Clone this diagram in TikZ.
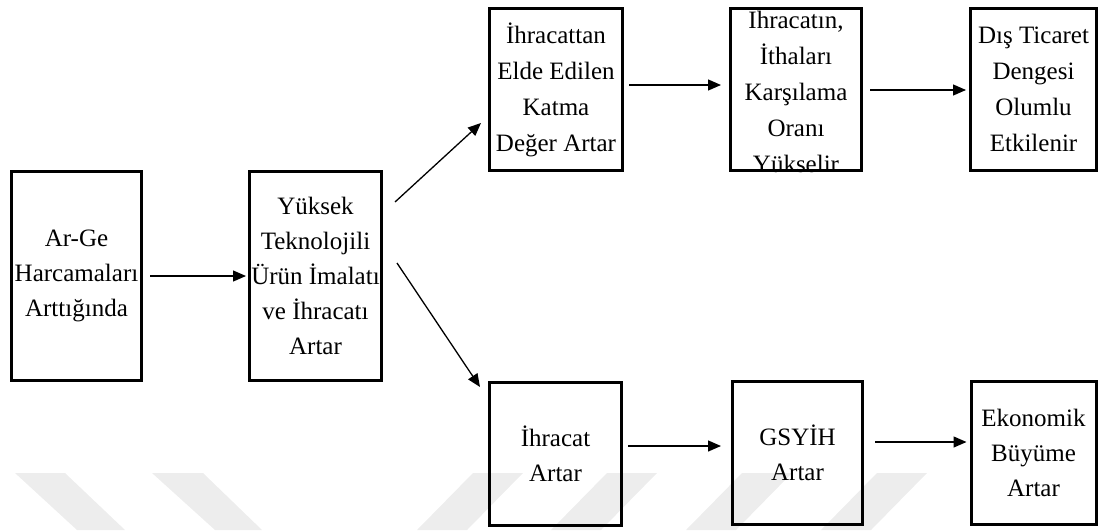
\documentclass[tikz,border=0pt]{standalone}
\usepackage{fontspec}
\setmainfont{Liberation Serif}
\usetikzlibrary{arrows.meta,calc}
\tikzset{
  boxframe/.style={draw=black, line width=3pt, inner sep=0pt, outer sep=0pt, align=center,
    font=\fontsize{25}{35}\selectfont},
  toprow/.style={font=\fontsize{25}{36}\selectfont},
  boxtext/.style={inner sep=0pt, align=center, font=\fontsize{25}{36}\selectfont},
  arr/.style={line width=1.3pt, -{Triangle[length=13pt,width=11pt]}},
  wmark/.style={fill=black!7, draw=none}
}
\begin{document}
\begin{tikzpicture}[x=1pt,y=-1pt]
\useasboundingbox (0,0) rectangle (1099,530);
% faint watermark bands
\fill[wmark] (15,473) -- (65,473) -- (125,530) -- (77,530) -- cycle;
\fill[wmark] (152,473) -- (203,473) -- (262,530) -- (215,530) -- cycle;
\fill[wmark] (473,473) -- (523,473) -- (467,530) -- (417,530) -- cycle;
\fill[wmark] (607,473) -- (657,473) -- (601,530) -- (551,530) -- cycle;
\fill[wmark] (742,473) -- (792,473) -- (736,530) -- (686,530) -- cycle;
\fill[wmark] (877,473) -- (927,473) -- (871,530) -- (821,530) -- cycle;
% clipped text of box 4
\begin{scope}
\clip (729,7) rectangle (863,172);
\node[boxtext] (t4) at (796,90) {İhracatın,\\İthaları\\Karşılama\\Oranı\\Yükselir};
\end{scope}
% boxes
\node[boxframe, minimum width=130, minimum height=209] (b1) at (76.5,276) {Ar-Ge\\Harcamaları\\Arttığında};
\node[boxframe, minimum width=132, minimum height=209] (b2) at (315.5,276) {Yüksek\\Teknolojili\\Ürün İmalatı\\ve İhracatı\\Artar};
\node[boxframe, toprow, minimum width=133, minimum height=162] (b3) at (556,89.5) {İhracattan\\Elde Edilen\\Katma\\Değer Artar};
\node[boxframe, toprow, minimum width=131, minimum height=162] (b4) at (796,89.5) {};
\node[boxframe, toprow, minimum width=126, minimum height=162] (b5) at (1033.5,89.5) {Dış Ticaret\\Dengesi\\Olumlu\\Etkilenir};
\node[boxframe, minimum width=132, minimum height=143] (b6) at (555.5,454) {İhracat\\Artar};
\node[boxframe, minimum width=130, minimum height=143] (b7) at (797.5,453) {GSYİH\\Artar};
\node[boxframe, minimum width=125, minimum height=143] (b8) at (1033.5,453) {Ekonomik\\Büyüme\\Artar};
% arrows
\draw[arr] ($(b1.east)+(8.5,0)$) -- ($(b2.west)+(-3.5,0)$);
\draw[arr] ($(b2.east)+(13.5,-74)$) -- ($(b3.west)+(-8.5,33.5)$);
\draw[arr] ($(b2.east)+(15.5,-13)$) -- ($(b6.west)+(-9.5,-67)$);
\draw[arr] ($(b3.east)+(6.5,-4.5)$) -- ($(b4.west)+(-9.5,-4.5)$);
\draw[arr] ($(b4.east)+(8.5,0.5)$) -- ($(b5.west)+(-4.5,0.5)$);
\draw[arr] ($(b6.east)+(6.5,-8)$) -- ($(b7.west)+(-11.5,-7)$);
\draw[arr] ($(b7.east)+(12.5,-11)$) -- ($(b8.west)+(-4.5,-11)$);
\end{tikzpicture}
\end{document}
